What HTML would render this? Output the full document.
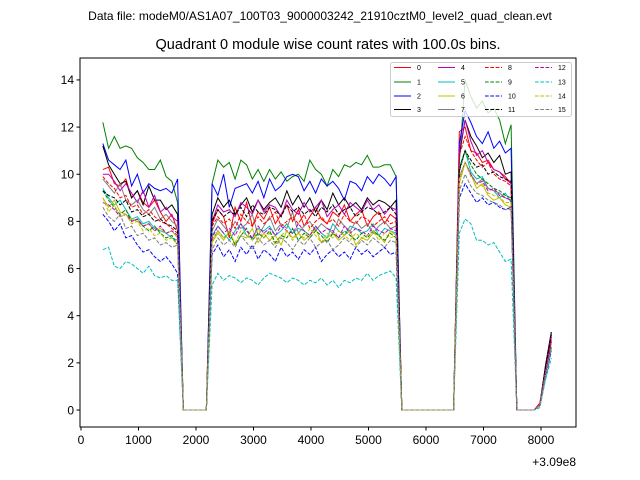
<!DOCTYPE html>
<html><head><meta charset="utf-8"><style>
body{margin:0;background:#fff}
svg{display:block;font-family:"Liberation Sans","DejaVu Sans",sans-serif}
</style></head><body>
<svg id="chart" width="640" height="480" viewBox="0 0 640 480" xmlns="http://www.w3.org/2000/svg">
<rect width="640" height="480" fill="#fff"/>
<text x="320" y="20" font-size="12" text-anchor="middle">Data file: modeM0/AS1A07_100T03_9000003242_21910cztM0_level2_quad_clean.evt</text>
<text x="328" y="49" font-size="14.5" text-anchor="middle">Quadrant 0 module wise count rates with 100.0s bins.</text>
<g id="plot"></g>
<g id="axes"></g>
<text x="576" y="466" font-size="12" text-anchor="end">+3.09e8</text>
<g id="legend"></g>
</svg>
<script>
const t0 = 380, dt = 100;
const Z5=[0,0,0,0,0], Z10=[0,0,0,0,0,0,0,0,0,0], Z4=[0,0,0,0];
const xTicks=[0,1000,2000,3000,4000,5000,6000,7000,8000];
const yTicks=[0,2,4,6,8,10,12,14];
const labels=["0","1","2","3","4","5","6","7","8","9","10","11","12","13","14","15"];
const colors=["#ff0000","#008000","#0000ff","#000000","#bf00bf","#00bfbf","#bfbf00","#808080","#ff0000","#008000","#0000ff","#000000","#bf00bf","#00bfbf","#bfbf00","#808080"];
const s0=[10.2,10.3,9.6,9.5,9.8,9.0,9.3,8.8,8.6,8.9,8.4,8.0,8.3,7.6,...Z5,7.9,8.5,8.2,7.3,8.6,8.0,8.8,7.8,8.4,8.1,8.6,7.9,8.3,8.7,8.0,8.5,7.8,8.2,8.6,8.1,7.9,8.4,8.2,8.7,8.0,8.3,8.5,7.8,8.2,8.4,7.9,8.3,8.1,...Z10,11.8,12.0,11.0,10.9,10.5,10.6,10.2,10.1,9.9,9.6,...Z4,0.3,1.8,3.1];
const s1=[12.2,11.1,11.6,11.1,11.2,11.1,10.7,10.5,10.2,10.2,10.6,9.9,9.7,8.8,...Z5,9.6,10.6,10.3,10.5,9.8,10.6,10.4,9.8,10.2,9.7,10.2,9.8,10.1,9.7,9.9,10.0,9.7,10.6,10.2,10.0,9.5,10.2,9.9,10.4,10.3,10.5,10.4,10.8,10.3,10.3,10.4,10.4,9.9,...Z10,10.5,14.0,13.3,12.8,13.1,12.6,12.8,12.3,11.3,12.1,...Z4,0.2,1.6,2.9];
const s2=[11.3,10.6,10.4,10.2,10.6,9.5,10.0,9.2,9.6,9.4,9.3,9.4,9.2,9.8,...Z5,9.6,9.1,10.0,8.6,9.4,9.5,9.6,9.2,9.7,9.0,9.8,9.3,9.5,9.9,10.0,9.9,9.3,9.7,9.2,9.8,9.5,9.7,9.4,8.9,9.7,9.6,9.3,9.9,9.6,10.0,9.8,9.5,9.9,...Z10,11.3,12.7,12.2,11.6,11.3,11.8,11.1,11.4,10.9,11.1,...Z4,0.2,1.9,3.3];
const s3=[11.2,10.4,10.0,9.6,9.7,9.0,9.3,8.7,9.5,8.9,8.9,8.5,8.7,8.3,...Z5,8.3,9.0,8.6,8.9,8.3,8.7,9.0,8.4,8.9,8.5,8.8,9.0,8.6,9.3,8.7,9.1,8.6,9.0,8.4,8.9,8.5,9.2,8.7,9.0,8.6,8.8,8.5,9.0,8.7,8.9,8.8,8.6,8.9,...Z10,10.8,12.3,11.6,11.2,10.7,10.9,10.5,10.8,10.0,10.1,...Z4,0.2,1.9,3.3];
const s4=[10.0,10.0,9.7,9.3,9.6,9.2,8.8,9.3,8.6,9.1,8.4,8.6,8.2,8.0,...Z5,8.0,8.7,8.4,8.5,8.2,8.8,8.6,8.3,8.9,8.4,8.7,8.6,8.2,8.9,8.5,8.3,8.8,8.4,8.6,8.9,8.2,8.5,8.7,8.3,8.8,8.6,8.4,8.9,8.5,8.7,8.3,8.6,8.5,...Z10,11.0,12.3,11.4,10.8,11.0,10.5,10.2,10.1,9.8,9.6,...Z4,0.2,1.7,3.2];
const s5=[9.4,9.0,8.7,8.9,8.5,8.1,8.2,7.9,8.0,7.7,7.6,7.5,7.3,7.2,...Z5,7.4,7.8,7.5,7.2,7.6,7.9,7.4,7.3,7.7,7.6,7.8,7.4,7.6,7.9,7.5,7.7,7.6,7.4,7.8,7.5,7.3,7.9,7.6,7.4,7.8,7.7,7.5,7.6,7.9,7.4,7.7,7.6,7.5,...Z10,10.3,11.0,10.1,9.8,9.9,9.4,9.3,9.0,9.2,8.8,...Z4,0.2,1.5,2.6];
const s6=[9.0,8.6,8.9,8.4,8.3,8.1,8.0,7.8,7.9,7.6,7.7,7.5,7.6,7.3,...Z5,7.1,7.5,7.2,7.6,7.0,7.4,7.3,7.7,7.1,7.5,7.2,7.4,7.0,7.6,7.3,7.5,7.2,7.4,7.7,7.1,7.3,7.5,7.2,7.4,7.6,7.0,7.3,7.2,7.5,7.4,7.1,7.6,7.4,...Z10,9.6,10.5,10.0,9.4,9.6,9.1,8.9,9.0,8.7,8.6,...Z4,0.2,1.6,2.8];
const s7=[9.8,9.5,9.2,9.6,8.9,8.7,8.9,8.5,8.3,8.6,8.1,8.3,8.0,7.8,...Z5,7.6,8.1,7.8,7.5,8.0,7.7,7.9,8.3,7.4,7.8,8.2,7.6,7.9,7.7,8.4,7.5,7.8,8.0,7.6,7.9,7.7,7.5,8.1,7.8,7.6,8.0,7.7,7.9,7.5,7.8,8.0,7.7,7.8,...Z10,9.9,10.5,10.0,9.6,9.8,9.4,9.3,9.2,9.0,8.9,...Z4,0.2,1.7,2.9];
const s8=[9.9,9.6,9.4,9.0,9.1,8.6,8.7,8.3,8.5,8.2,8.0,7.9,7.7,7.5,...Z5,7.8,8.2,7.9,8.1,7.7,8.3,8.0,7.8,8.2,7.9,8.1,8.4,7.8,8.0,8.2,7.9,8.3,7.7,8.0,8.2,7.9,8.1,7.8,8.3,8.0,7.9,8.2,8.1,7.8,8.0,8.2,7.9,8.0,...Z10,10.8,11.6,11.0,10.6,10.3,10.5,10.0,9.8,9.7,9.5,...Z4,0.2,1.8,3.0];
const s9=[9.3,8.9,8.6,8.3,8.5,8.0,8.1,7.8,7.6,7.8,7.5,7.3,7.4,7.0,...Z5,7.2,7.6,7.3,7.5,7.0,7.4,7.7,7.2,7.5,7.3,7.6,7.1,7.4,7.3,7.7,7.2,7.5,7.3,7.6,7.4,7.1,7.5,7.3,7.6,7.4,7.2,7.5,7.3,7.6,7.4,7.2,7.5,7.3,...Z10,10.1,11.0,10.4,10.0,9.8,9.6,9.4,9.3,9.1,9.0,...Z4,0.2,1.5,2.7];
const s10=[8.3,8.0,7.6,7.9,7.3,7.4,7.0,6.7,6.8,6.5,6.3,6.5,6.2,5.8,...Z5,6.6,7.0,6.5,6.8,6.3,6.9,6.6,7.0,6.4,6.8,6.6,6.3,6.9,6.5,6.7,6.4,6.8,6.6,6.9,6.3,6.6,6.8,6.5,6.7,6.4,6.9,6.6,6.8,6.5,6.7,6.9,6.6,6.7,...Z10,9.0,9.6,9.2,8.8,9.0,8.7,8.8,8.6,8.5,8.6,...Z4,0.2,1.4,2.5];
const s11=[9.3,9.1,9.0,8.7,8.9,8.4,8.5,8.2,8.3,8.0,8.1,7.9,7.8,7.6,...Z5,8.0,8.5,8.2,8.4,8.3,8.6,8.2,8.7,8.4,8.3,8.6,8.5,8.2,8.7,8.4,8.6,8.3,8.5,8.2,8.6,8.4,8.7,8.3,8.5,8.6,8.2,8.4,8.6,8.5,8.3,8.4,8.6,8.3,...Z10,10.2,11.0,10.6,10.3,10.4,10.0,10.1,9.9,9.8,9.7,...Z4,0.2,1.8,3.2];
const s12=[8.8,8.7,8.5,8.2,8.3,8.0,8.1,7.8,7.9,7.6,7.8,7.5,7.6,7.4,...Z5,7.3,7.8,7.5,7.7,7.4,7.9,7.6,7.3,7.8,7.5,7.7,7.4,7.8,7.6,7.5,7.9,7.6,7.4,7.8,7.5,7.7,7.6,7.3,7.8,7.5,7.7,7.6,7.4,7.8,7.6,7.5,7.7,7.6,...Z10,9.8,10.5,10.0,9.6,9.7,9.3,9.4,9.1,9.0,8.9,...Z4,0.2,1.6,2.9];
const s13=[6.8,6.9,6.1,6.0,6.3,6.2,6.0,5.8,6.1,5.7,5.6,5.7,5.5,5.5,...Z5,5.3,5.8,5.5,5.7,5.6,5.4,5.6,5.5,5.3,5.6,5.8,5.7,5.6,5.4,5.6,5.5,5.3,5.5,5.4,5.6,5.3,5.5,5.2,5.5,5.4,5.6,5.5,5.8,5.5,5.7,5.8,5.9,5.6,...Z10,7.5,8.1,7.9,7.2,7.2,7.0,7.1,6.7,6.3,6.4,...Z4,0.1,1.3,2.2];
const s14=[9.0,8.4,8.7,8.2,8.3,7.9,8.0,7.6,7.7,7.4,7.5,7.2,7.3,7.0,...Z5,7.2,7.6,7.3,7.5,7.1,7.6,7.4,7.2,7.7,7.3,7.5,7.0,7.4,7.6,7.2,7.5,7.3,7.7,7.4,7.1,7.5,7.3,7.6,7.4,7.2,7.5,7.3,7.4,7.6,7.2,7.5,7.3,7.4,...Z10,9.8,10.5,9.9,9.6,9.5,9.2,9.1,9.0,8.8,8.8,...Z4,0.2,1.5,2.6];
const s15=[8.6,8.2,8.0,8.3,7.7,7.8,7.4,7.5,7.2,7.3,7.0,7.1,6.9,7.0,...Z5,6.8,7.3,7.0,7.2,6.9,7.4,7.1,6.8,7.3,7.0,7.2,6.9,7.3,7.1,6.8,7.2,7.0,7.3,6.9,7.1,7.2,6.8,7.0,7.3,7.1,6.9,7.2,7.0,7.3,7.1,6.9,7.2,7.1,...Z10,9.3,10.0,9.5,9.2,9.1,8.9,8.8,8.7,8.5,8.5,...Z4,0.2,1.5,2.6];
const series=[s0,s1,s2,s3,s4,s5,s6,s7,s8,s9,s10,s11,s12,s13,s14,s15];

const NS="http://www.w3.org/2000/svg";
const L=80,R=576,T=58,B=427;
const xMin=-17.4,xMax=8609,yMin=-0.72,yMax=14.93;
const xs=v=>L+(v-xMin)/(xMax-xMin)*(R-L);
const ys=v=>B-(v-yMin)/(yMax-yMin)*(B-T);
function mk(tag,attrs,parent){const e=document.createElementNS(NS,tag);for(const k in attrs)e.setAttribute(k,attrs[k]);parent.appendChild(e);return e;}
const plot=document.getElementById('plot'),axes=document.getElementById('axes'),leg=document.getElementById('legend');

series.forEach((s,i)=>{
  const pts=s.map((v,k)=>xs(t0+k*dt).toFixed(2)+','+ys(v).toFixed(2)).join(' ');
  const p=mk('polyline',{points:pts,fill:'none',stroke:colors[i],'stroke-width':1,'stroke-dasharray':i>=8?'3.7,1.6':'none'},plot);
  
  
});

const frame=mk('rect',{x:L,y:T,width:R-L,height:B-T,fill:'none',stroke:'#000','stroke-width':1},axes);


xTicks.forEach(v=>{
  const x=xs(v);
  mk('line',{x1:x,y1:B,x2:x,y2:B+3.5,stroke:'#000'},axes);
  const t=mk('text',{x:x,y:B+17,'font-size':12,'text-anchor':'middle'},axes);
  t.textContent=v;
  
  
});
yTicks.forEach(v=>{
  const y=ys(v);
  mk('line',{x1:L-3.5,y1:y,x2:L,y2:y,stroke:'#000'},axes);
  const t=mk('text',{x:L-6,y:y+4.3,'font-size':12,'text-anchor':'end'},axes);
  t.textContent=v;
  
  
});

const lb=mk('rect',{x:390.5,y:62.5,width:181,height:54,rx:2,fill:'#fff','fill-opacity':0.8,stroke:'#ccc'},leg);


const colX=[394,438,485,535], rowY=[67.5,82,96,109.5];
labels.forEach((lab,i)=>{
  const c=Math.floor(i/4), r=i%4, x=colX[c], y=rowY[r];
  const g=mk('g',{},leg);
  
  
  mk('line',{x1:x,y1:y,x2:x+17,y2:y,stroke:colors[i],'stroke-width':1,'stroke-dasharray':i>=8?'3.7,1.6':'none'},g);
  const t=mk('text',{x:x+23,y:y+2.5,'font-size':7},g);
  t.textContent=lab;
});
</script>
</body></html>
